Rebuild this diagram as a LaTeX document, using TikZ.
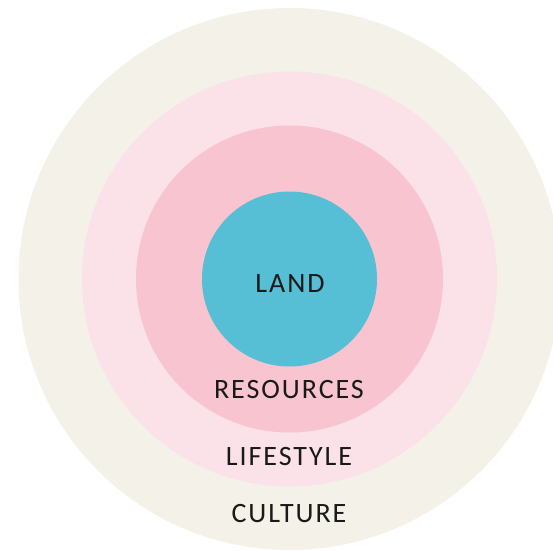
\documentclass[tikz,border=0pt]{standalone}
\usepackage{fontspec}
\setmainfont[LetterSpace=7]{Carlito}
\usepackage{tikz}

\definecolor{cultureCol}{HTML}{F4F1E9}
\definecolor{lifestyleCol}{HTML}{FBE1E8}
\definecolor{resourcesCol}{HTML}{F8C4D0}
\definecolor{landCol}{HTML}{56BFD5}

\begin{document}
\begin{tikzpicture}[x=1pt, y=-1pt]
  \tikzstyle{ring}=[circle, inner sep=0pt, outer sep=0pt]
  \tikzstyle{tag}=[font=\fontsize{28}{30}\selectfont, text=black!90, inner sep=0pt]
  \useasboundingbox (0,0) rectangle (553,550);
  \begin{scope}
  \clip (0,0) rectangle (553,550);
  \node[ring, fill=cultureCol, minimum size=542pt] (R_4) at (289.5,279) {};
  \end{scope}
  \node[ring, fill=lifestyleCol, minimum size=415pt] (R_3) at (289.5,279) {};
  \node[ring, fill=resourcesCol, minimum size=307pt] (R_2) at (289.5,279) {};
  \node[ring, fill=landCol, minimum size=175pt] (R_1) at (289.5,279) {};
  \node[tag] (T_1) at (290,284) {LAND};
  \node[tag] (T_2) at (289,390) {RESOURCES};
  \node[tag] (T_3) at (289,456) {LIFESTYLE};
  \node[tag] (T_4) at (289,514) {CULTURE};
\end{tikzpicture}
\end{document}
